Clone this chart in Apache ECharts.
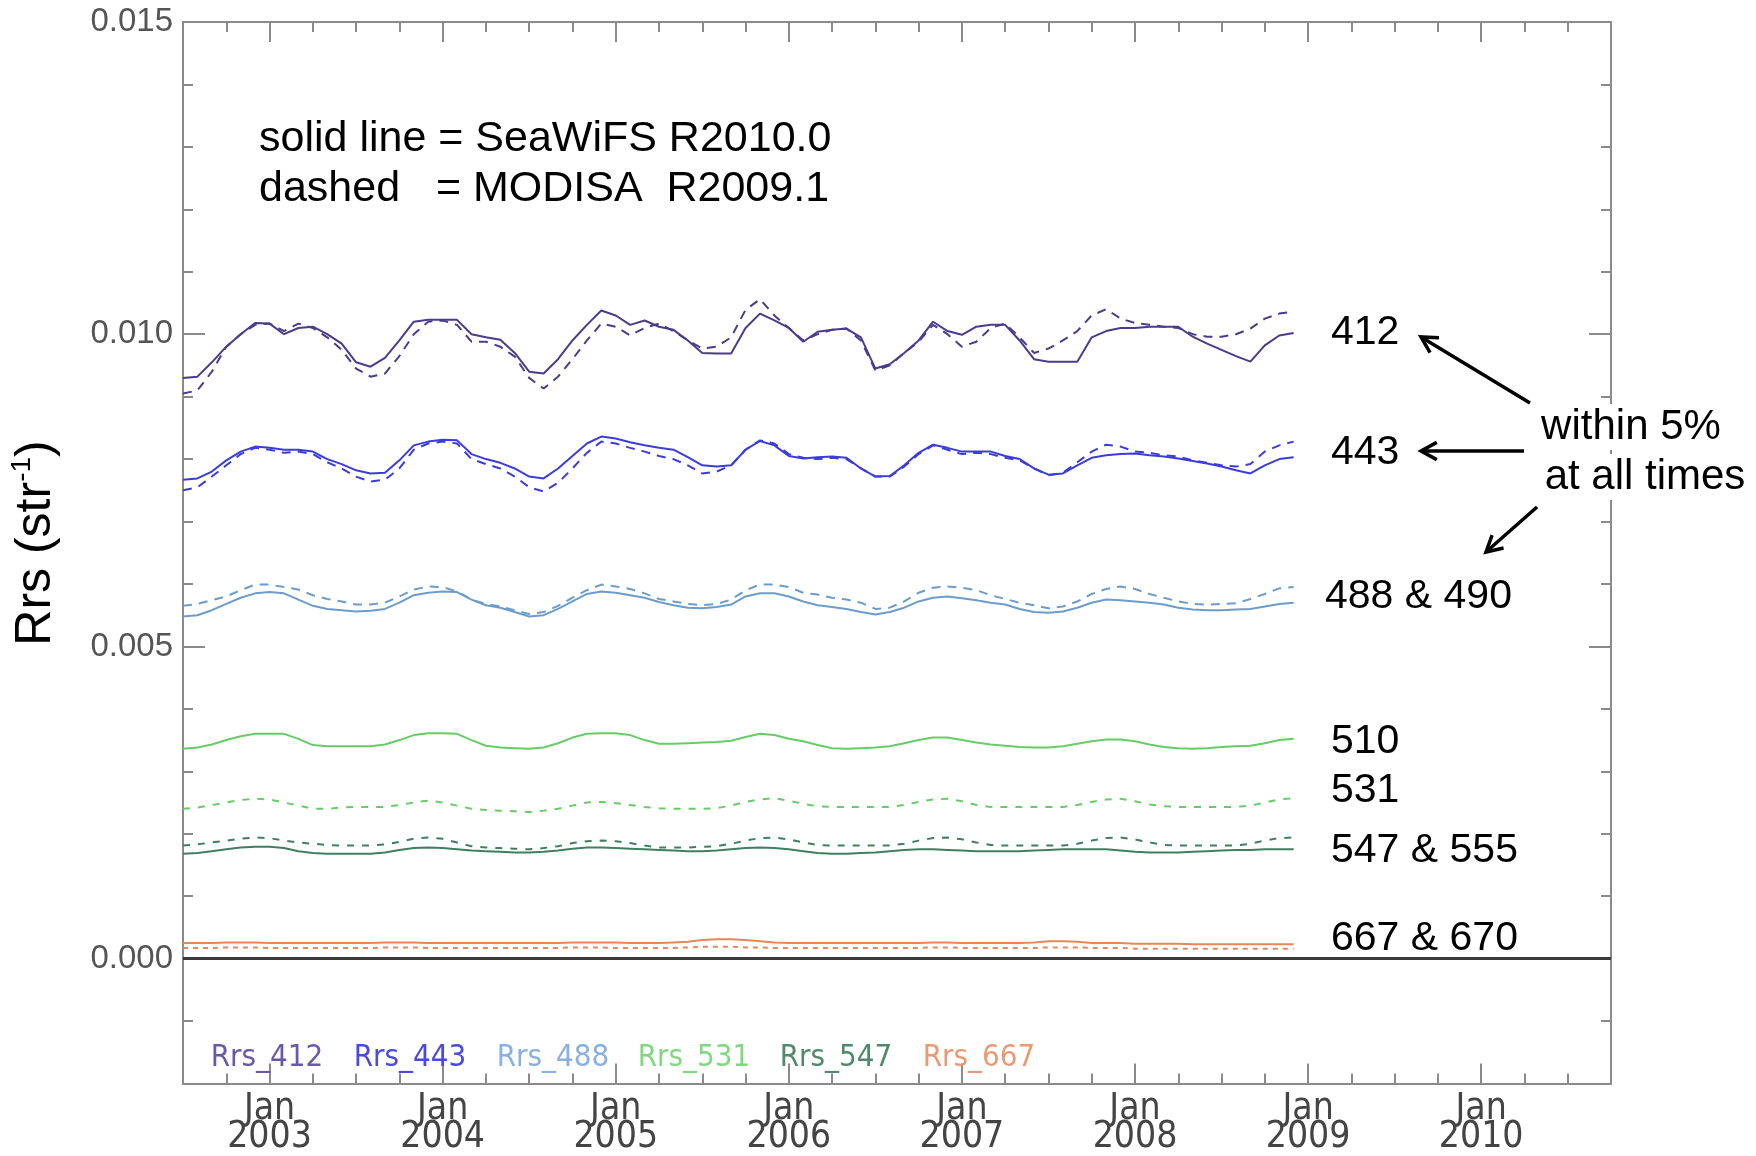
<!DOCTYPE html>
<html><head><meta charset="utf-8">
<script src="https://cdn.jsdelivr.net/npm/echarts@6/dist/echarts.min.js"></script>
<style>html,body{margin:0;padding:0;background:#fff}#c{width:1756px;height:1156px}</style>
</head><body><div id="c"></div>
<script>
// ---- data: monthly Rrs (sr^-1), first value = Jul 2002, last = Dec 2008 ----
const firstMonth = 2002.5;          // decimal year of first sample (Jul 2002)
const yearTicks = [2003, 2004, 2005, 2006, 2007, 2008, 2009, 2010];
const yMajorTicks = [0, 0.005, 0.010, 0.015];
const yMinorTicks = [-0.001, 0.001, 0.002, 0.003, 0.004, 0.006, 0.007, 0.008, 0.009, 0.011, 0.012, 0.013, 0.014];
const legendNames = ['Rrs_412', 'Rrs_443', 'Rrs_488', 'Rrs_531', 'Rrs_547', 'Rrs_667'];
const bandLabels = ['412', '443', '488 & 490', '510', '531', '547 & 555', '667 & 670'];

const seawifs412 = [0.00930,0.00932,0.00955,0.00980,0.01000,0.01018,0.01017,0.01000,0.01010,0.01012,
0.01000,0.00985,0.00955,0.00948,0.00962,0.00990,0.01020,0.01023,0.01023,0.01023,
0.01000,0.00995,0.00991,0.00970,0.00940,0.00937,0.00960,0.00990,0.01015,0.01038,
0.01030,0.01015,0.01022,0.01012,0.01007,0.00990,0.00970,0.00969,0.00969,0.01010,
0.01033,0.01022,0.01010,0.00988,0.01004,0.01007,0.01009,0.00995,0.00945,0.00952,
0.00970,0.00990,0.01020,0.01005,0.00999,0.01012,0.01015,0.01015,0.00990,0.00960,
0.00956,0.00956,0.00956,0.00995,0.01005,0.01010,0.01010,0.01012,0.01012,0.01012,
0.00996,0.00985,0.00975,0.00965,0.00956,0.00982,0.00998,0.01002];
const modis412 = [0.00905,0.00910,0.00940,0.00980,0.01000,0.01015,0.01017,0.01005,0.01017,0.01010,
0.00995,0.00975,0.00945,0.00932,0.00937,0.00965,0.01000,0.01020,0.01022,0.01015,
0.00988,0.00988,0.00980,0.00964,0.00930,0.00913,0.00932,0.00960,0.00990,0.01017,
0.01012,0.00998,0.01010,0.01017,0.01005,0.00990,0.00977,0.00980,0.00995,0.01039,
0.01056,0.01030,0.01010,0.00990,0.01000,0.01007,0.01009,0.00990,0.00942,0.00950,
0.00970,0.00988,0.01015,0.01000,0.00980,0.00988,0.01010,0.01017,0.00995,0.00970,
0.00977,0.00990,0.01005,0.01030,0.01040,0.01025,0.01018,0.01015,0.01012,0.01010,
0.01000,0.00996,0.00996,0.01000,0.01009,0.01025,0.01033,0.01036];
const seawifs443 = [0.00767,0.00769,0.00780,0.00798,0.00812,0.00820,0.00818,0.00815,0.00815,0.00812,
0.00800,0.00792,0.00782,0.00777,0.00778,0.00798,0.00822,0.00828,0.00831,0.00830,
0.00808,0.00800,0.00794,0.00785,0.00772,0.00769,0.00785,0.00805,0.00825,0.00836,
0.00833,0.00827,0.00822,0.00818,0.00815,0.00803,0.00790,0.00788,0.00790,0.00815,
0.00829,0.00822,0.00805,0.00801,0.00803,0.00804,0.00802,0.00785,0.00772,0.00773,
0.00790,0.00810,0.00823,0.00818,0.00812,0.00812,0.00812,0.00805,0.00800,0.00785,
0.00775,0.00777,0.00790,0.00802,0.00806,0.00808,0.00809,0.00806,0.00804,0.00801,
0.00797,0.00793,0.00788,0.00782,0.00777,0.00790,0.00800,0.00803];
const modis443 = [0.00750,0.00755,0.00772,0.00790,0.00808,0.00818,0.00815,0.00810,0.00812,0.00808,
0.00795,0.00785,0.00772,0.00764,0.00767,0.00785,0.00815,0.00825,0.00828,0.00825,
0.00800,0.00792,0.00785,0.00772,0.00755,0.00748,0.00762,0.00785,0.00810,0.00828,
0.00825,0.00818,0.00812,0.00805,0.00800,0.00790,0.00777,0.00780,0.00790,0.00815,
0.00830,0.00825,0.00808,0.00802,0.00800,0.00802,0.00800,0.00785,0.00772,0.00772,
0.00788,0.00808,0.00822,0.00815,0.00808,0.00810,0.00808,0.00802,0.00798,0.00785,
0.00774,0.00778,0.00795,0.00812,0.00823,0.00820,0.00812,0.00810,0.00806,0.00804,
0.00798,0.00794,0.00790,0.00788,0.00792,0.00812,0.00822,0.00828];
const seawifs490 = [0.00548,0.00550,0.00558,0.00568,0.00578,0.00585,0.00587,0.00585,0.00575,0.00565,
0.00560,0.00558,0.00556,0.00557,0.00560,0.00570,0.00582,0.00586,0.00588,0.00587,
0.00575,0.00566,0.00562,0.00555,0.00548,0.00550,0.00560,0.00572,0.00584,0.00588,
0.00586,0.00582,0.00578,0.00571,0.00566,0.00562,0.00561,0.00563,0.00567,0.00580,
0.00585,0.00585,0.00580,0.00572,0.00566,0.00563,0.00560,0.00555,0.00551,0.00555,
0.00562,0.00572,0.00578,0.00580,0.00577,0.00574,0.00570,0.00567,0.00560,0.00555,
0.00554,0.00556,0.00562,0.00570,0.00575,0.00574,0.00572,0.00570,0.00567,0.00562,
0.00559,0.00558,0.00558,0.00559,0.00560,0.00564,0.00568,0.00570];
const modis488 = [0.00565,0.00568,0.00574,0.00580,0.00590,0.00599,0.00599,0.00595,0.00591,0.00582,
0.00576,0.00572,0.00567,0.00567,0.00570,0.00580,0.00591,0.00596,0.00595,0.00588,
0.00575,0.00568,0.00564,0.00558,0.00552,0.00555,0.00565,0.00578,0.00590,0.00599,
0.00596,0.00592,0.00585,0.00576,0.00572,0.00568,0.00566,0.00568,0.00575,0.00590,
0.00599,0.00599,0.00595,0.00586,0.00583,0.00578,0.00575,0.00570,0.00560,0.00562,
0.00572,0.00586,0.00594,0.00596,0.00594,0.00590,0.00582,0.00576,0.00570,0.00566,
0.00561,0.00564,0.00572,0.00584,0.00592,0.00596,0.00592,0.00584,0.00578,0.00572,
0.00568,0.00567,0.00568,0.00569,0.00576,0.00584,0.00593,0.00595];
const seawifs510 = [0.00336,0.00338,0.00343,0.00350,0.00356,0.00360,0.00360,0.00360,0.00352,0.00342,
0.00340,0.00340,0.00340,0.00340,0.00343,0.00350,0.00358,0.00361,0.00361,0.00360,
0.00350,0.00341,0.00338,0.00337,0.00336,0.00338,0.00345,0.00354,0.00360,0.00361,
0.00361,0.00358,0.00350,0.00344,0.00344,0.00345,0.00346,0.00347,0.00349,0.00355,
0.00360,0.00358,0.00352,0.00348,0.00342,0.00337,0.00336,0.00337,0.00338,0.00340,
0.00345,0.00350,0.00354,0.00354,0.00350,0.00346,0.00343,0.00341,0.00339,0.00338,
0.00338,0.00340,0.00344,0.00348,0.00351,0.00351,0.00348,0.00343,0.00339,0.00337,
0.00336,0.00337,0.00339,0.00340,0.00341,0.00345,0.00350,0.00352];
const modis531 = [0.00240,0.00242,0.00246,0.00250,0.00254,0.00256,0.00255,0.00250,0.00245,0.00240,
0.00240,0.00242,0.00243,0.00243,0.00243,0.00246,0.00250,0.00253,0.00250,0.00245,
0.00240,0.00238,0.00237,0.00236,0.00235,0.00237,0.00240,0.00245,0.00250,0.00251,
0.00249,0.00246,0.00243,0.00241,0.00240,0.00240,0.00240,0.00241,0.00245,0.00251,
0.00255,0.00257,0.00253,0.00248,0.00244,0.00243,0.00243,0.00243,0.00243,0.00243,
0.00246,0.00251,0.00255,0.00256,0.00252,0.00246,0.00243,0.00243,0.00243,0.00243,
0.00243,0.00243,0.00246,0.00251,0.00255,0.00256,0.00252,0.00247,0.00244,0.00243,
0.00243,0.00243,0.00243,0.00243,0.00245,0.00250,0.00255,0.00257];
const seawifs555 = [0.00168,0.00169,0.00172,0.00175,0.00178,0.00179,0.00179,0.00177,0.00172,0.00169,
0.00168,0.00168,0.00168,0.00168,0.00170,0.00174,0.00177,0.00178,0.00177,0.00175,
0.00173,0.00172,0.00171,0.00170,0.00170,0.00171,0.00173,0.00176,0.00178,0.00178,
0.00177,0.00176,0.00175,0.00174,0.00173,0.00172,0.00172,0.00173,0.00175,0.00177,
0.00178,0.00177,0.00175,0.00172,0.00169,0.00168,0.00168,0.00169,0.00170,0.00172,
0.00174,0.00175,0.00175,0.00174,0.00173,0.00172,0.00172,0.00172,0.00172,0.00173,
0.00174,0.00175,0.00175,0.00175,0.00175,0.00173,0.00171,0.00170,0.00170,0.00170,
0.00171,0.00172,0.00173,0.00174,0.00174,0.00175,0.00175,0.00175];
const modis547 = [0.00181,0.00183,0.00186,0.00189,0.00192,0.00194,0.00193,0.00189,0.00186,0.00184,
0.00182,0.00181,0.00181,0.00181,0.00183,0.00187,0.00192,0.00194,0.00192,0.00186,
0.00180,0.00178,0.00177,0.00176,0.00175,0.00177,0.00180,0.00185,0.00188,0.00189,
0.00188,0.00185,0.00181,0.00178,0.00178,0.00178,0.00179,0.00180,0.00184,0.00189,
0.00193,0.00194,0.00191,0.00186,0.00182,0.00181,0.00181,0.00181,0.00181,0.00181,
0.00184,0.00189,0.00193,0.00194,0.00191,0.00186,0.00182,0.00181,0.00181,0.00181,
0.00181,0.00181,0.00184,0.00189,0.00193,0.00194,0.00191,0.00186,0.00182,0.00181,
0.00181,0.00181,0.00181,0.00181,0.00184,0.00189,0.00193,0.00194];
const seawifs670 = [0.00025,0.00025,0.00025,0.00026,0.00026,0.00026,0.00025,0.00025,0.00025,0.00025,
0.00025,0.00025,0.00025,0.00025,0.00026,0.00026,0.00026,0.00025,0.00025,0.00025,
0.00025,0.00025,0.00025,0.00025,0.00025,0.00025,0.00025,0.00026,0.00026,0.00026,
0.00026,0.00025,0.00025,0.00025,0.00026,0.00027,0.00030,0.00031,0.00031,0.00030,
0.00028,0.00026,0.00025,0.00025,0.00025,0.00025,0.00025,0.00025,0.00025,0.00025,
0.00025,0.00025,0.00026,0.00026,0.00025,0.00025,0.00025,0.00025,0.00025,0.00026,
0.00028,0.00028,0.00027,0.00025,0.00025,0.00025,0.00024,0.00024,0.00024,0.00024,
0.00023,0.00023,0.00023,0.00023,0.00023,0.00023,0.00023,0.00023];
const modis667 = [0.00017,0.00017,0.00017,0.00018,0.00018,0.00018,0.00017,0.00017,0.00017,0.00017,
0.00017,0.00017,0.00017,0.00017,0.00018,0.00018,0.00018,0.00017,0.00017,0.00017,
0.00017,0.00017,0.00017,0.00017,0.00017,0.00017,0.00017,0.00018,0.00018,0.00018,
0.00017,0.00017,0.00017,0.00017,0.00017,0.00018,0.00019,0.00019,0.00019,0.00018,
0.00018,0.00017,0.00017,0.00017,0.00017,0.00017,0.00017,0.00017,0.00017,0.00017,
0.00017,0.00017,0.00018,0.00018,0.00017,0.00017,0.00017,0.00017,0.00017,0.00017,
0.00018,0.00018,0.00018,0.00017,0.00017,0.00017,0.00016,0.00016,0.00016,0.00016,
0.00016,0.00016,0.00016,0.00016,0.00016,0.00016,0.00016,0.00016];

// ---- styling ----
const C412 = '#4a3c8c', C443 = '#3c3cdc', C488 = '#6c9ccc', C531 = '#66cc66', C547 = '#3f7f5f', C667 = '#e4875a';
const legendColors = ['#6a58a8', '#4a4ae0', '#88b0e0', '#80d880', '#4f8a6a', '#e89a74'];
const AX = '#8a8a8a';
const NARROW = '"Liberation Sans Narrow", "DejaVu Sans Condensed", "Liberation Sans", sans-serif';
const SANS = '"Liberation Sans", Arial, Helvetica, sans-serif';
const XMIN = 2002.5, XMAX = 2010.75, YMIN = -0.002, YMAX = 0.015;

const quarterTicks = [];
for (let y = 2002; y <= 2010; y++) for (const q of [0.25, 0.5, 0.75]) {
  const v = y + q; if (v > XMIN && v < XMAX) quarterTicks.push(v);
}

function toPairs(values) { return values.map((v, i) => [firstMonth + i / 12, v]); }
function line(name, values, color, dashed) {
  return {
    name, type: 'line', data: toPairs(values), showSymbol: false, symbol: 'none',
    smooth: false, silent: true,
    lineStyle: { color, width: 2, type: dashed ? dashed : 'solid' }
  };
}

function xAx(pos, ticks, len, showLine, showLabel) {
  return {
    type: 'value', position: pos, min: XMIN, max: XMAX, gridIndex: 0,
    axisLine: { show: showLine, onZero: false, lineStyle: { color: AX, width: 2 } },
    axisTick: { show: true, inside: true, length: len, customValues: ticks, lineStyle: { color: AX, width: 2 } },
    axisLabel: showLabel ? {
      show: true, customValues: yearTicks, formatter: v => 'Jan\n' + v,
      fontFamily: NARROW, fontSize: 37, lineHeight: 28, color: '#444', margin: 12
    } : { show: false },
    splitLine: { show: false }, minorTick: { show: false }
  };
}
function yAx(pos, ticks, len, showLine, showLabel) {
  return {
    type: 'value', position: pos, min: YMIN, max: YMAX, gridIndex: 0,
    axisLine: { show: showLine, onZero: false, lineStyle: { color: AX, width: 2 } },
    axisTick: { show: true, inside: true, length: len, customValues: ticks, lineStyle: { color: AX, width: 2 } },
    axisLabel: showLabel ? {
      show: true, customValues: yMajorTicks, formatter: v => v.toFixed(3),
      fontFamily: SANS, fontSize: 33, color: '#555', margin: 10
    } : { show: false },
    splitLine: { show: false }
  };
}

const series = [
  line('SeaWiFS 412', seawifs412, C412),
  line('MODISA 412', modis412, C412, [9, 7]),
  line('SeaWiFS 443', seawifs443, C443),
  line('MODISA 443', modis443, C443, [9, 7]),
  line('SeaWiFS 490', seawifs490, C488),
  line('MODISA 488', modis488, C488, [9, 7]),
  line('SeaWiFS 510', seawifs510, C531),
  line('MODISA 531', modis531, C531, [7, 8]),
  line('SeaWiFS 555', seawifs555, C547),
  line('MODISA 547', modis547, C547, [7, 8]),
  line('SeaWiFS 670', seawifs670, C667),
  line('MODISA 667', modis667, C667, [5, 5])
];
series[0].markLine = {
  silent: true, symbol: ['none', 'none'], animation: false, label: { show: false },
  lineStyle: { color: '#3a3a3a', width: 3, type: 'solid' }, data: [{ yAxis: 0 }]
};

// ---- annotations ----
const txt = (text, x, y, size, opts = {}) => ({
  type: 'text', x, y, z: 100,
  style: Object.assign({ text, fontFamily: SANS, fontSize: size, fill: '#000', align: 'left', verticalAlign: 'middle' }, opts)
});
function arrow(x1, y1, x2, y2) {
  const a = Math.atan2(y1 - y2, x1 - x2), L = 18, s = 0.5;
  return [
    { type: 'line', z: 100, shape: { x1, y1, x2, y2 }, style: { stroke: '#000', lineWidth: 3.5 } },
    { type: 'polyline', z: 100, shape: { points: [
      [x2 + L * Math.cos(a + s), y2 + L * Math.sin(a + s)], [x2, y2],
      [x2 + L * Math.cos(a - s), y2 + L * Math.sin(a - s)]] },
      style: { stroke: '#000', lineWidth: 3.5, fill: null, lineJoin: 'miter' } }
  ];
}
const bandY = [333, 453, 597, 742, 791, 851, 939];
const bandX = [1331, 1331, 1325, 1331, 1331, 1331, 1331];
const legendX = [267, 410, 553, 694, 836, 979];

const graphic = [];
graphic.push(txt('solid line = SeaWiFS R2010.0', 259, 139, 43));
graphic.push(txt('dashed   = MODISA  R2009.1', 259, 189, 43));
bandLabels.forEach((t, i) => graphic.push(txt(t, bandX[i], bandY[i], 41)));
graphic.push(txt('within 5%', 1631, 427, 42, { align: 'center', backgroundColor: '#fff', padding: [2, 4] }));
graphic.push(txt('at all times', 1645, 477, 42, { align: 'center', backgroundColor: '#fff', padding: [2, 4] }));
graphic.push(...arrow(1530, 403, 1421, 337));
graphic.push(...arrow(1524, 451, 1421, 451));
graphic.push(...arrow(1537, 507, 1486, 552));
legendNames.forEach((t, i) => graphic.push(txt(t, legendX[i], 1058, 31,
  { align: 'center', fontFamily: NARROW, fill: legendColors[i] })));
graphic.push({
  type: 'text', x: 36, y: 543, rotation: Math.PI / 2, z: 100,
  style: {
    text: '{a|Rrs (str}{b|-1}{a|)}', align: 'center', verticalAlign: 'middle',
    rich: {
      a: { fontFamily: SANS, fontSize: 50, lineHeight: 56, fill: '#000' },
      b: { fontFamily: SANS, fontSize: 28, lineHeight: 56, verticalAlign: 'top', fill: '#000' }
    }
  }
});

const chart = echarts.init(document.getElementById('c'), null, { renderer: 'canvas' });
chart.setOption({
  backgroundColor: '#fff',
  animation: false,
  grid: { left: 183, right: 145, top: 22, bottom: 68, containLabel: false },
  xAxis: [
    xAx('bottom', yearTicks, 20, true, true),
    xAx('bottom', quarterTicks, 10, false, false),
    xAx('top', yearTicks, 20, true, false),
    xAx('top', quarterTicks, 10, false, false)
  ],
  yAxis: [
    yAx('left', yMajorTicks, 22, true, true),
    yAx('left', yMinorTicks, 10, false, false),
    yAx('right', yMajorTicks, 22, true, false),
    yAx('right', yMinorTicks, 10, false, false)
  ],
  series,
  graphic
});
</script>
</body></html>
